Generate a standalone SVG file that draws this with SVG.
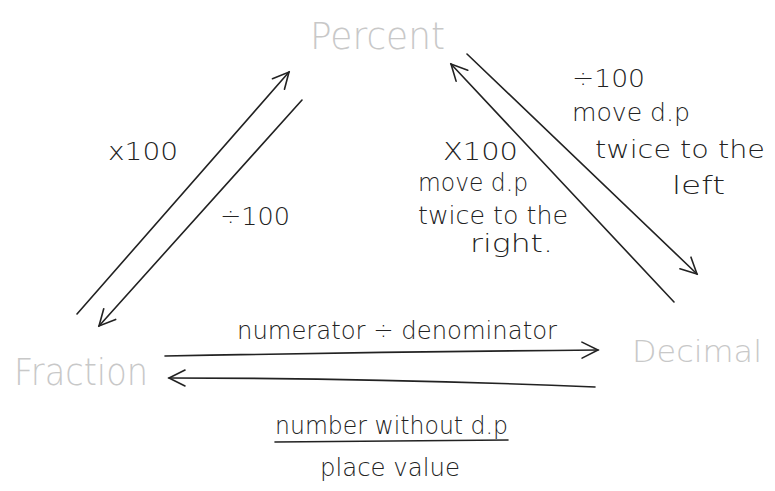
<svg xmlns="http://www.w3.org/2000/svg" width="775" height="491" viewBox="0 0 775 491">
<style>
.node{font-family:"DejaVu Sans",sans-serif;font-weight:200;fill:#c8c8c8;font-size:38px}
.lbl{font-family:"DejaVu Sans",sans-serif;font-weight:300;fill:#222;font-size:25px}
.ln{fill:none;stroke:#222;stroke-width:1.6;stroke-linecap:round}
</style>
<defs>
<marker id="ah" viewBox="0 0 20 20" refX="18" refY="10" markerWidth="20" markerHeight="20" markerUnits="userSpaceOnUse" orient="auto">
<path d="M2,2 L18,10 L2,18" fill="none" stroke="#222" stroke-width="1.6" stroke-linecap="round"/>
</marker>
</defs>
<rect width="775" height="491" fill="#fff"/>
<g id="percent"><text class="node" x="310" y="49" textLength="135" lengthAdjust="spacingAndGlyphs">Percent</text></g>
<g id="fraction"><text class="node" x="14" y="385" textLength="134" lengthAdjust="spacingAndGlyphs">Fraction</text></g>
<g id="decimal"><text class="node" x="632" y="362" style="font-size:31px" textLength="130" lengthAdjust="spacingAndGlyphs">Decimal</text></g>
<g id="connectors">
<path class="ln" d="M77,314 L289,72" marker-end="url(#ah)"/>
<path class="ln" d="M302,100 L99,326" marker-end="url(#ah)"/>
<path class="ln" d="M467,54 L697,274" marker-end="url(#ah)"/>
<path class="ln" d="M674,302 L451,64" marker-end="url(#ah)"/>
<path class="ln" d="M165,356 Q380,352 598,350" marker-end="url(#ah)"/>
<path class="ln" d="M595,387 Q380,378 169,378" marker-end="url(#ah)"/>
<path class="ln" d="M275,442 L508,440"/>
</g>
<g id="labels">
<text class="lbl" x="108" y="160" textLength="70" lengthAdjust="spacingAndGlyphs">x100</text>
<text class="lbl" x="220" y="225" textLength="70" lengthAdjust="spacingAndGlyphs">÷100</text>
<text class="lbl" x="572" y="87" textLength="73" lengthAdjust="spacingAndGlyphs">÷100</text>
<text class="lbl" x="572" y="121" textLength="118" lengthAdjust="spacingAndGlyphs">move d.p</text>
<text class="lbl" x="595" y="158" textLength="170" lengthAdjust="spacingAndGlyphs">twice to the</text>
<text class="lbl" x="672" y="194" textLength="53" lengthAdjust="spacingAndGlyphs">left</text>
<text class="lbl" x="443" y="160" textLength="75" lengthAdjust="spacingAndGlyphs">X100</text>
<text class="lbl" x="418" y="191" textLength="110" lengthAdjust="spacingAndGlyphs">move d.p</text>
<text class="lbl" x="418" y="224" textLength="150" lengthAdjust="spacingAndGlyphs">twice to the</text>
<text class="lbl" x="470" y="252" textLength="83" lengthAdjust="spacingAndGlyphs">right.</text>
<text class="lbl" x="237" y="339" textLength="320" lengthAdjust="spacingAndGlyphs">numerator ÷ denominator</text>
<text class="lbl" x="275" y="434" textLength="233" lengthAdjust="spacingAndGlyphs">number without d.p</text>
<text class="lbl" x="320" y="476" textLength="140" lengthAdjust="spacingAndGlyphs">place value</text>
</g>
</svg>
